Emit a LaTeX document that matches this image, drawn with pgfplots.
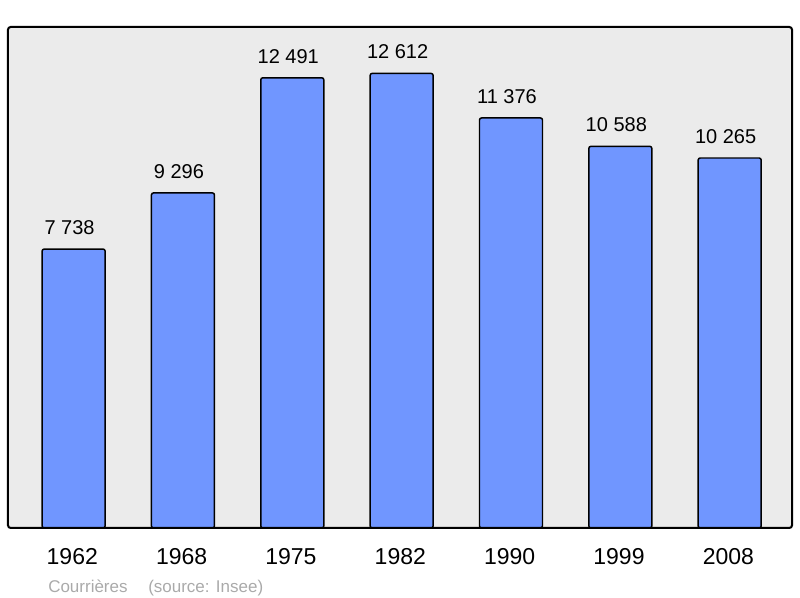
\documentclass[border=0pt]{standalone}
\usepackage{pgfplots}
\pgfplotsset{compat=1.18}
\usepackage{fontspec}
\setmainfont{Liberation Sans}

\definecolor{barblue}{RGB}{112,150,255}
\definecolor{panelgray}{RGB}{235,235,235}
\definecolor{srcgray}{RGB}{170,170,170}

\begin{document}
\begin{tikzpicture}
\begin{axis}[
    scale only axis,
    width=588pt,
    height=375.75pt,
    xmin=-0.6, xmax=6.57,
    ymin=0, ymax=13900,
    axis line style={draw=none},
    major tick length=0pt,
    ytick=\empty,
    xtick={0,1,2,3,4,5,6},
    xticklabels={1962,1968,1975,1982,1990,1999,2008},
    xticklabel style={font=\fontsize{17.25}{20}\selectfont, anchor=base, yshift=-27.5pt, xshift=-1pt},
    ybar,
    bar width=47.25pt,
    nodes near coords,
    /pgf/number format/assume math mode=true,
    /pgf/number format/1000 sep={\ },
    every node near coord/.append style={font=\fontsize{15}{18}\selectfont, anchor=base, yshift=11pt, xshift=-3pt},
    clip=false,
]
\fill[panelgray] (rel axis cs:0,0) rectangle (rel axis cs:1,1);
\addplot[draw=black, line width=1.1pt, fill=barblue, rounded corners=1.5pt] coordinates {
    (0,7738) (1,9296) (2,12491) (3,12612) (4,11376) (5,10588) (6,10265)
};
\draw[black, line width=1.5pt, rounded corners=2pt] (rel axis cs:0,0) rectangle (rel axis cs:1,1);
\node[anchor=base west, text=srcgray, font=\fontsize{12.75}{15}\selectfont, inner sep=0pt]
    at ([xshift=30pt, yshift=-48.5pt]rel axis cs:0,0) {Courrières\hspace{15.5pt}(source: Insee)};
\path ([xshift=-6pt, yshift=-52.5pt]rel axis cs:0,0) rectangle ([xshift=6pt, yshift=20.25pt]rel axis cs:1,1);
\end{axis}
\end{tikzpicture}
\end{document}
